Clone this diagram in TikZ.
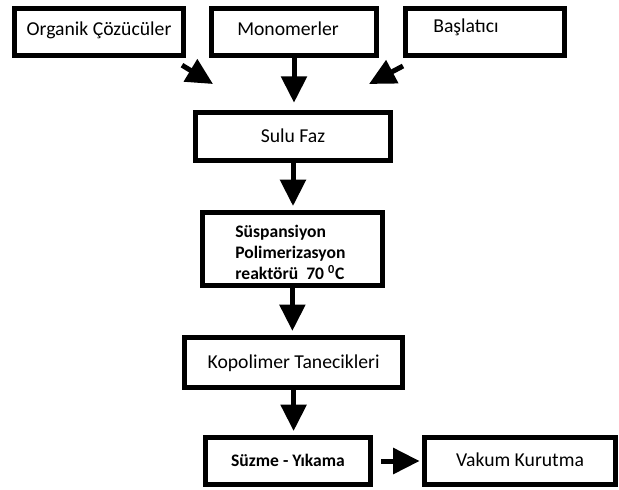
\documentclass[tikz,border=0pt]{standalone}
\usepackage{fontspec}
\setmainfont{Carlito}
\usetikzlibrary{arrows.meta}

\tikzset{
	kutu/.style={rectangle, draw, line width=0.125cm, minimum height=1.175cm,
		inner sep=2pt, text centered, font=\fontsize{14pt}{17pt}\selectfont},
	ust/.style={kutu, text height=0.72em, text depth=0.22em},
	tek/.style={kutu, text height=0.98em, text depth=0.14em},
	ok/.style={line width=0.125cm, -{Triangle[width=0.63cm,length=0.66cm]}}
}

\begin{document}
\begin{tikzpicture}
	
	\useasboundingbox (0,0) rectangle (15.475,-12.225);
	
	%Nodes
	\node (Organik) at (2.475,-0.8) [ust, minimum width=4.225cm]{Organik Çözücüler};
	\node (Monomer) at (7.35,-0.8) [ust, minimum width=4.125cm]{Monomerler\hspace*{0.3cm}};
	\node (Baslatici) at (12.125,-0.8) [ust, minimum width=3.975cm]{\raisebox{2pt}{Başlatıcı}\hspace*{0.95cm}};
	\node (SuluFaz) at (7.325,-3.41) [tek, minimum width=4.875cm, minimum height=1.2cm]{Sulu Faz};
	\node (Reaktor) at (7.31,-6.225) [kutu, minimum width=4.5cm, minimum height=1.825cm, 
	font=\fontsize{12.5pt}{14.9pt}\selectfont\bfseries]{\raisebox{-0.13cm}[\height][\depth]{\begin{tabular}{@{}l@{}}Süspansiyon\\Polimerizasyon\\reaktörü~ 70 \textsuperscript{0}C\end{tabular}}\hspace*{0.1cm}};
	\node (Tanecik) at (7.34,-9.06) [tek, minimum width=5.45cm, minimum height=1.25cm]{Kopolimer Tanecikleri};
	\node (Suzme) at (7.2,-11.525) [tek, minimum width=4.125cm, font=\fontsize{12.5pt}{15pt}\selectfont\bfseries]{Süzme - Yıkama};
	\node (Kurutma) at (13.0,-11.525) [tek, minimum width=4.775cm]{Vakum Kurutma};
	
	%Free ends
	\coordinate (OrganikUc) at (5.325,-2.1);
	\coordinate (BaslaticiUc) at (9.225,-2.1);
	
	%Links
	\draw[ok] ([shift={(-0.1,-0.18)}]Organik.south east) -- (OrganikUc);
	\draw[ok] ([shift={(0,-0.2)}]Baslatici.south west) -- (BaslaticiUc);
	\draw[ok, shorten >=0.18cm] (Monomer.south) -- (Monomer.south |- SuluFaz.north);
	\draw[ok, shorten >=0.1cm] (SuluFaz.south) -- (SuluFaz.south |- Reaktor.north);
	\draw[ok, shorten >=0.1cm] (Reaktor.south) -- (Reaktor.south |- Tanecik.north);
	\draw[ok, shorten >=0.1cm] (Tanecik.south) -- (Tanecik.south |- Suzme.north);
	\draw[ok, shorten <=0.2cm, shorten >=0.06cm] (Suzme.east) -- (Suzme.east -| Kurutma.west);
	
\end{tikzpicture}
\end{document}
